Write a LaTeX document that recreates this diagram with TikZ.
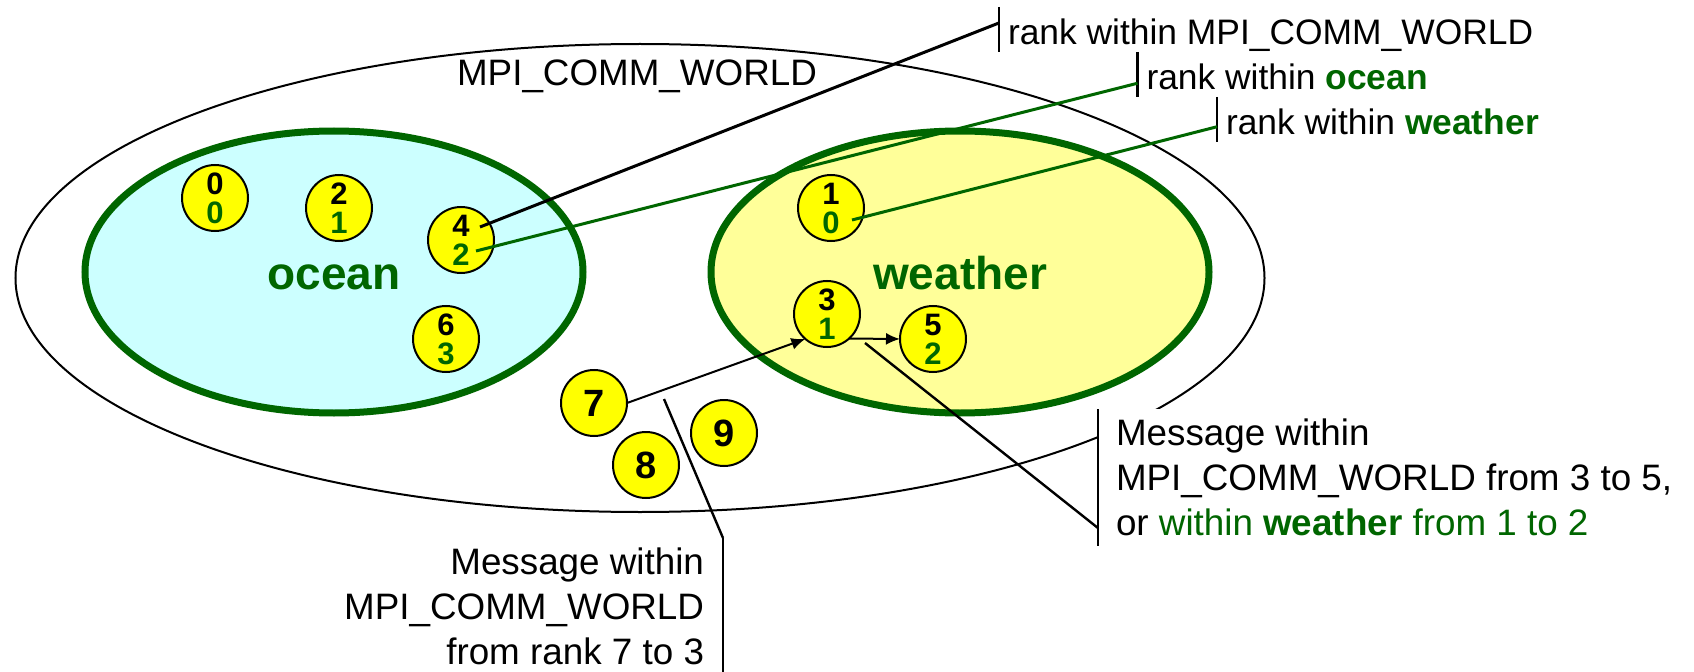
\documentclass[tikz,border=0pt]{standalone}
\usepackage{fontspec}
\setmainfont{Liberation Sans}
\usepackage{tikz}
\usetikzlibrary{positioning}
\usetikzlibrary{arrows.meta}
\usetikzlibrary{shapes.geometric}
\definecolor{commgreen}{RGB}{0,102,0}
\definecolor{oceanfill}{RGB}{204,255,255}
\definecolor{weatherfill}{RGB}{255,255,153}
\definecolor{procyellow}{RGB}{255,255,0}
\newcommand{\ranks}[2]{#1\\\textcolor{commgreen}{#2}}

\begin{document}
\begin{tikzpicture}[x=0.5pt, y=0.5pt,
    every node/.style={font=\fontsize{18.4}{22.5}\selectfont, outer sep=0pt},
    comm/.style={ellipse, draw=commgreen, line width=3.5pt, minimum width=249pt, minimum height=141pt, inner sep=0pt},
    commname/.style={text=commgreen, font=\bfseries\fontsize{23}{27}\selectfont, anchor=base, inner sep=0pt},
    proc/.style={circle, draw, line width=1pt, fill=procyellow, minimum size=33pt, inner sep=0pt, align=center, font=\bfseries\fontsize{15.5}{14.5}\selectfont},
    lone/.style={proc, font=\bfseries\fontsize{19}{20}\selectfont},
    ranklabel/.style={anchor=north west, inner xsep=4.5pt, inner ysep=0pt, text height=19pt, text depth=3.75pt, font=\fontsize{17.7}{21}\selectfont},
    tick/.style={line width=1.2pt},
    msg/.style={line width=1pt, -{Latex[length=7pt, width=6pt]}},
    leader/.style={line width=1.5pt}]
    \useasboundingbox (0,0) rectangle (1694,671);

    \node[ellipse, draw, line width=1pt, minimum width=624.5pt, minimum height=234pt, inner sep=0pt] (world) at (640,393) {};
    \node[anchor=base, inner sep=0pt] (worldname) at (637,585) {MPI\_COMM\_WORLD};

    \node[comm, fill=oceanfill] (ocean) at (334,399) {};
    \node[comm, fill=weatherfill] (weather) at (960,399) {};
    \node[commname] (oceanname) at ([yshift=-9pt]ocean.center) {ocean};
    \node[commname] (weathername) at ([yshift=-9pt]weather.center) {weather};

    \node[proc] (p0) at (215,473) {\ranks{0}{0}};
    \node[proc] (p2) at (339,463) {\ranks{2}{1}};
    \node[proc] (p4) at (461,431) {\ranks{4}{2}};
    \node[proc] (p6) at (446,332) {\ranks{6}{3}};
    \node[proc] (p1) at (831,463) {\ranks{1}{0}};
    \node[proc] (p3) at (827,357) {\ranks{3}{1}};
    \node[proc] (p5) at (933,332) {\ranks{5}{2}};
    \node[lone] (p7) at (594,268) {7};
    \node[lone] (p8) at (646,206) {8};
    \node[lone] (p9) at (724,238) {9};

    \draw[msg] (p7.east) -- (p3.-131);
    \draw[msg] (p3.-48) -- (p5.west);
    \coordinate (m73) at (664,272);
    \coordinate (m35) at (865,328);

    \node[ranklabel] (rankworld) at (999,664) {rank within MPI\_COMM\_WORLD};
    \node[ranklabel] (rankocean) at (1137.5,619) {rank within \textcolor{commgreen}{\textbf{ocean}}};
    \node[ranklabel] (rankweather) at (1217,574) {rank within \textcolor{commgreen}{\textbf{weather}}};
    \foreach \l in {rankworld, rankocean, rankweather}
        \draw[tick] (\l.north west) -- (\l.south west);

    \node[anchor=north west, fill=white, align=left, inner xsep=9pt, inner ysep=5pt] (msgweather) at (1098,262)
        {Message within\\MPI\_COMM\_WORLD from 3 to 5,\\or \textcolor{commgreen}{within \textbf{weather} from 1 to 2}};
    \node[anchor=north east, align=right, inner xsep=9.5pt, inner ysep=5pt] (msgworld) at (723,133)
        {Message within\\MPI\_COMM\_WORLD\\from rank 7 to 3};
    \draw[tick] (msgweather.north west) -- (msgweather.south west);
    \draw[tick] (msgworld.north east) -- (msgworld.south east);

    \draw[line width=1.2pt] (m73) -- (msgworld.north east);
    \draw[line width=1.2pt] (m35) -- ([yshift=9pt]msgweather.south west);
    \draw[leader] ([shift={(19,13)}]p4.center) -- ([yshift=3.4pt]rankworld.west);
    \draw[leader, commgreen] ([shift={(15,-11)}]p4.center) -- ([yshift=-4.25pt]rankocean.west);
    \draw[leader, commgreen] ([shift={(21,-12)}]p1.center) -- ([yshift=-3.5pt]rankweather.west);
\end{tikzpicture}
\end{document}
